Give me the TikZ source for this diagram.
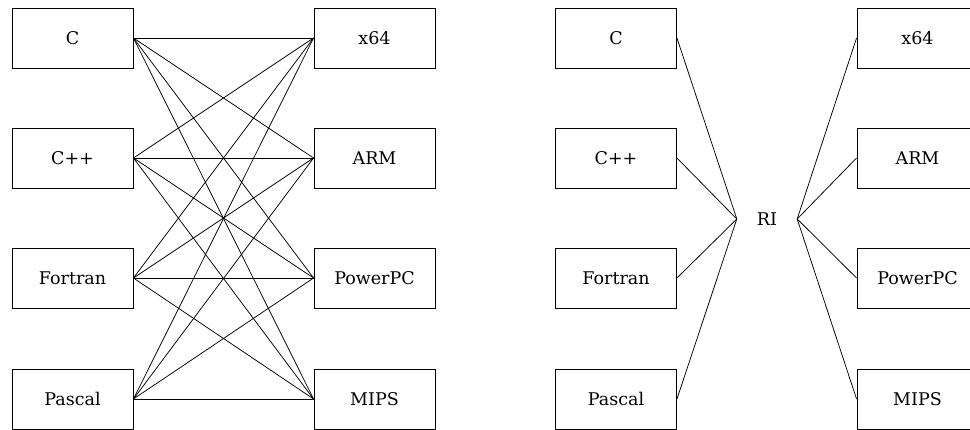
\documentclass[tikz,border=0pt]{standalone}
\usepackage{fontspec}
\setmainfont{DejaVu Serif}
\begin{document}
\begin{tikzpicture}[x=1pt,y=-1pt,
  box/.style={draw,line width=0.9pt,minimum width=121pt,minimum height=60pt,inner sep=0pt,font=\fontsize{17.5}{20}\selectfont},
  lbl/.style={inner sep=0pt,minimum width=60pt,minimum height=20pt,font=\fontsize{17.5}{20}\selectfont},
  con/.style={line width=0.75pt}]
\useasboundingbox (0,0) rectangle (970,430);
% left diagram
\node[box] (a1) at (72.5,38) {C};
\node[box] (a2) at (72.5,158) {C++};
\node[box] (a3) at (72.5,278) {Fortran};
\node[box] (a4) at (72.5,399) {Pascal};
\node[box] (b1) at (374.5,38) {x64};
\node[box] (b2) at (374.5,158) {ARM};
\node[box] (b3) at (374.5,278) {PowerPC};
\node[box] (b4) at (374.5,399) {MIPS};
\foreach \i in {1,...,4}{\foreach \j in {1,...,4}{\draw[con] (a\i.east) -- (b\j.west);}}
% right diagram
\node[box] (c1) at (616,38) {C};
\node[box] (c2) at (616,158) {C++};
\node[box] (c3) at (616,278) {Fortran};
\node[box] (c4) at (616,399) {Pascal};
\node[lbl] (ri) at (767,219) {RI};
\node[box] (d1) at (917.5,38) {x64};
\node[box] (d2) at (917.5,158) {ARM};
\node[box] (d3) at (917.5,278) {PowerPC};
\node[box] (d4) at (917.5,399) {MIPS};
\foreach \i in {1,...,4}{\draw[con] (c\i.east) -- (ri.west); \draw[con] (ri.east) -- (d\i.west);}
\end{tikzpicture}
\end{document}
